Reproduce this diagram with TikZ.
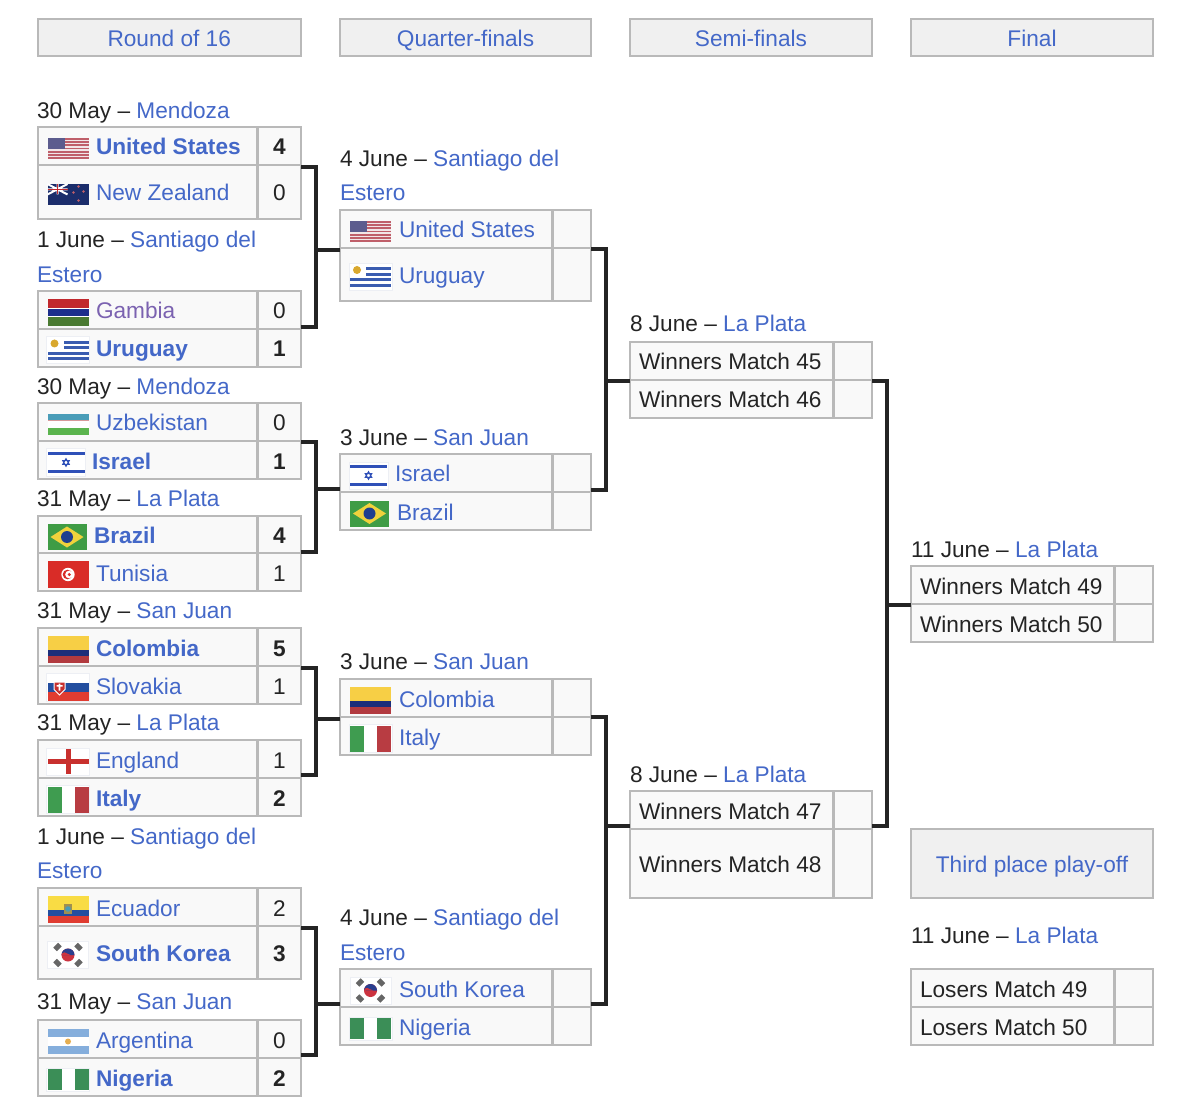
\documentclass[tikz,border=0pt]{standalone}
\usepackage{fontspec}
\setmainfont{Liberation Sans}
\definecolor{linkblue}{HTML}{4468C8}
\definecolor{visitedp}{HTML}{7B62B0}
\definecolor{inkc}{HTML}{242424}
\definecolor{cellb}{HTML}{B9B9B9}
\definecolor{cellf}{HTML}{F9F9F9}
\definecolor{headf}{HTML}{F0F0F0}
\definecolor{flagb}{HTML}{EDEFF4}
\definecolor{usred}{HTML}{BF5F6A}
\definecolor{uswhite}{HTML}{F1E6E8}
\definecolor{usblue}{HTML}{5C5C8E}
\definecolor{navy}{HTML}{1B2D6B}
\definecolor{gmred}{HTML}{C1282D}
\definecolor{gmblue}{HTML}{1C2E8C}
\definecolor{gmgreen}{HTML}{4A7A32}
\definecolor{uyblue}{HTML}{3A5CB0}
\definecolor{gold}{HTML}{D9A82E}
\definecolor{uzblue}{HTML}{4A9DB8}
\definecolor{uzgreen}{HTML}{5BB44E}
\definecolor{uzred}{HTML}{D89A9A}
\definecolor{ilblue}{HTML}{2F50B8}
\definecolor{brgreen}{HTML}{3F9C45}
\definecolor{bryellow}{HTML}{F0D23C}
\definecolor{brblue}{HTML}{1F3F8F}
\definecolor{tnred}{HTML}{D92C27}
\definecolor{coyellow}{HTML}{F7CF45}
\definecolor{coblue}{HTML}{1C2E7A}
\definecolor{cored}{HTML}{B23A3F}
\definecolor{skblue}{HTML}{234E9F}
\definecolor{skred}{HTML}{E03C31}
\definecolor{enred}{HTML}{C8302E}
\definecolor{itgreen}{HTML}{3F9C50}
\definecolor{itred}{HTML}{B83C42}
\definecolor{ecyellow}{HTML}{F9DC44}
\definecolor{ecbrown}{HTML}{A09050}
\definecolor{krred}{HTML}{CC3340}
\definecolor{krblue}{HTML}{2A3F8F}
\definecolor{krgray}{HTML}{666666}
\definecolor{arblue}{HTML}{85AEDC}
\definecolor{arsun}{HTML}{E5AE50}
\definecolor{nggreen}{HTML}{3B8E57}
\tikzset{
  every node/.style={font=\fontsize{22.65}{27}\selectfont, text=inkc, inner sep=0pt, outer sep=0pt},
  cell/.style={draw=cellb, fill=cellf, line width=2pt, anchor=north west},
  headbox/.style={draw=cellb, fill=headf, line width=2pt, anchor=north west},
  link/.style={text=linkblue},
  conn/.style={draw=inkc, line width=4.4pt, line join=miter}
}
% ---- flags, origin at left centre
\newcommand\flagUS{\fill[uswhite] (0,-10.5) rectangle (41,10.5);
  \foreach \i in {0,2,...,12}{\fill[usred] (0,{-10.5+\i*21/13}) rectangle (41,{-10.5+(\i+1)*21/13});}
  \fill[usblue] (0,-10.5) rectangle (17,0.8);}
\newcommand\flagNZ{\fill[navy] (0,-10.5) rectangle (41,10.5);
  \draw[white,line width=2pt] (0,-10.5) -- (20,0) (0,0) -- (20,-10.5) (10,-10.5) -- (10,0) (0,-5.2) -- (20,-5.2);
  \draw[gmred,line width=1.2pt] (10,-10.5) -- (10,0) (0,-5.2) -- (20,-5.2);
  \foreach \p/\q in {31/-8,26/-2,36/-3,31/6}{\fill[usred] (\p,\q) circle[radius=1.4];}}
\newcommand\flagGM{\fill[gmred] (0,-13.5) rectangle (41,-4.5);
  \fill[white] (0,-4.5) rectangle (41,-3.5);
  \fill[gmblue] (0,-3.5) rectangle (41,3.5);
  \fill[white] (0,3.5) rectangle (41,4.5);
  \fill[gmgreen] (0,4.5) rectangle (41,13.5);}
\newcommand\flagUY{\draw[flagb,fill=white,line width=1pt] (-1,-13.5) rectangle (42,13.5);
  \foreach \i in {1,3}{\fill[uyblue] (16,{-12.5+\i*25/9}) rectangle (41,{-12.5+(\i+1)*25/9});}
  \foreach \i in {5,7}{\fill[uyblue] (0,{-12.5+\i*25/9}) rectangle (41,{-12.5+(\i+1)*25/9});}
  \fill[gold] (7,-7) circle[radius=4];}
\newcommand\flagUZ{\fill[uzblue] (0,-10.5) rectangle (41,-4);
  \fill[uzred] (0,-4) rectangle (41,-3.2);
  \fill[white] (0,-3.2) rectangle (41,3.2);
  \fill[uzred] (0,3.2) rectangle (41,4);
  \fill[uzgreen] (0,4) rectangle (41,10.5);}
\newcommand\flagIL{\draw[flagb,fill=white,line width=1pt] (-1,-13.5) rectangle (38,13.5);
  \fill[ilblue] (0,-10.5) rectangle (37,-7.3);
  \fill[ilblue] (0,7.3) rectangle (37,10.5);
  \draw[ilblue,line width=1pt] (18.5,-3.8) -- (15.2,1.9) -- (21.8,1.9) -- cycle (18.5,3.8) -- (15.2,-1.9) -- (21.8,-1.9) -- cycle;}
\newcommand\flagBR{\fill[brgreen] (0,-13) rectangle (39,13);
  \fill[bryellow] (3,0) -- (19.5,-10.5) -- (36,0) -- (19.5,10.5) -- cycle;
  \fill[brblue] (19.5,0) circle[radius=6];}
\newcommand\flagTN{\fill[tnred] (0,-13.5) rectangle (41,13.5);
  \fill[white] (20.5,0) circle[radius=6.7];
  \fill[tnred] (20,0) circle[radius=4.8];
  \fill[white] (21.5,0) circle[radius=3.8];
  \fill[tnred] (21.8,0) circle[radius=1.7];}
\newcommand\flagCO{\fill[coyellow] (0,-13.5) rectangle (41,0);
  \fill[coblue] (0,0) rectangle (41,6.7);
  \fill[cored] (0,6.7) rectangle (41,13.5);}
\newcommand\flagSK{\draw[flagb,fill=white,line width=1pt] (-1,-14) rectangle (42,14);
  \fill[skblue] (0,-4.5) rectangle (41,4.5);
  \fill[skred] (0,4.5) rectangle (41,13.5);
  \fill[white] (6,-6) -- (18,-6) -- (18,2) -- (12,8) -- (6,2) -- cycle;
  \fill[enred] (7,-5) -- (17,-5) -- (17,1.5) -- (12,6.5) -- (7,1.5) -- cycle;
  \fill[white] (11.2,-4) rectangle (12.8,3) (9,-2.5) rectangle (15,-1);}
\newcommand\flagEN{\draw[flagb,fill=white,line width=1pt] (-1,-13.5) rectangle (42,13.5);
  \fill[enred] (0,-2.5) rectangle (41,2.5);
  \fill[enred] (18,-12.5) rectangle (23,12.5);}
\newcommand\flagIT{\draw[flagb,fill=white,line width=1pt] (-1,-14) rectangle (42,14);
  \fill[itgreen] (0,-13) rectangle (14,13);
  \fill[itred] (27,-13) rectangle (41,13);}
\newcommand\flagEC{\fill[ecyellow] (0,-13.5) rectangle (41,0);
  \fill[skblue] (0,0) rectangle (41,6.7);
  \fill[skred] (0,6.7) rectangle (41,13.5);
  \fill[ecbrown] (16.5,-6) rectangle (24.5,4);
  \fill[uzblue] (20.5,-0.5) circle[radius=2.8];}
\newcommand\flagKR{\draw[flagb,fill=white,line width=1pt] (0,-13.5) rectangle (41,13.5);
  \fill[krred] (20.5,0) circle[radius=6.5];
  \fill[krblue] (14,0) arc[start angle=180,end angle=360,radius=6.5] -- cycle;
  \fill[krred] (14,0.3) arc[start angle=180,end angle=270,radius=3] -- (23,0) -- cycle;
  \foreach \p/\q/\r in {10/-8/45,31/-8/-45,10/8/-45,31/8/45}{\fill[krgray,rotate around={\r:(\p,\q)}] (\p-3.5,\q-2.5) rectangle (\p+3.5,\q+2.5);}}
\newcommand\flagAR{\fill[arblue] (0,-12.5) rectangle (41,-4.2);
  \fill[white] (0,-4.2) rectangle (41,4.2);
  \fill[arblue] (0,4.2) rectangle (41,12.5);
  \fill[arsun] (20.5,0) circle[radius=3];}
\newcommand\flagNG{\draw[flagb,fill=white,line width=1pt] (-1,-11.5) rectangle (42,11.5);
  \fill[nggreen] (0,-10.5) rectangle (14,10.5);
  \fill[nggreen] (27,-10.5) rectangle (41,10.5);}
\newcommand\flagNone{}
% ---- a table row: id, top, bottom, flag, text offset, name, score
\newcommand\setcol[3]{\def\colL{#1}\def\colD{#2}\def\colR{#3}}
\newcommand\teamrow[7]{%
  \pgfmathsetmacro\ymid{(#2+#3)/2}%
  \pgfmathsetmacro\ybase{\ymid+9}%
  \pgfmathsetmacro\yflag{\ymid+2.5}%
  \pgfmathsetmacro\wt{\colD-\colL}%
  \pgfmathsetmacro\ws{\colR-\colD-1}%
  \pgfmathsetmacro\hr{#3-#2}%
  \pgfmathsetmacro\xs{\colD+1}%
  \pgfmathsetmacro\xc{(\colD+1+\colR)/2}%
  \pgfmathsetmacro\xf{\colL+10}%
  \pgfmathsetmacro\xt{\colL+#5}%
  \node[cell,minimum width=\wt pt,minimum height=\hr pt] (#1) at (\colL,#2) {};
  \node[cell,minimum width=\ws pt,minimum height=\hr pt] (#1S) at (\xs,#2) {};
  \begin{scope}[shift={(\xf,\yflag)}]#4\end{scope}
  \node[anchor=base west,link] (#1T) at (\xt,\ybase) {#6};
  \node[anchor=base] (#1N) at (\xc,\ybase) {#7};
}
\newcommand\datelabel[5]{\node[anchor=base west] (#1) at (#2,#3+0.5) {#4 – \textcolor{linkblue}{#5}};}
\newcommand\wraplabel[3]{\node[anchor=base west,link] (#1) at (#2,#3+0.5) {Estero};}
\newcommand\headbox[6]{%
  \pgfmathsetmacro\wt{#3-#2}\pgfmathsetmacro\hr{#5-#4}%
  \node[headbox,minimum width=\wt pt,minimum height=\hr pt] (#1) at (#2,#4) {};
  \pgfmathsetmacro\xc{(#2+#3)/2}\pgfmathsetmacro\ybase{(#4+#5)/2+9}%
  \node[anchor=base,link] (#1T) at (\xc,\ybase) {#6};
}
\newcommand\bracket[7]{%
  \coordinate (#1) at ([xshift=15pt]#2S.south east);
  \draw[conn] ([yshift=#5pt]#2S.south east) -- ++(15,0) |- ([yshift=#6pt]#3S.south east);
  \draw[conn] ([yshift=#7pt]#4.south west) -| (#1);
}
\begin{document}
\begin{tikzpicture}[x=1pt,y=-1pt]
\useasboundingbox (0,0) rectangle (1179,1107);
% headers
\headbox{h1}{37.5}{301}{19}{56}{Round of 16}
\headbox{h2}{340}{591}{19}{56}{Quarter-finals}
\headbox{h3}{630}{872}{19}{56}{Semi-finals}
\headbox{h4}{911}{1153}{19}{56}{Final}
\headbox{h5}{911}{1153}{829}{898}{Third place play-off}
% round of 16
\setcol{37.5}{257}{301}
\datelabel{d1}{37}{118}{30 May}{Mendoza}
\teamrow{a1}{127}{165}{\flagUS}{58.5}{\textbf{United States}}{\textbf{4}}
\teamrow{a2}{165}{219}{\flagNZ}{58.5}{New Zealand}{0}
\datelabel{d2}{37}{247}{1 June}{Santiago del}
\wraplabel{d2b}{37}{282}
\teamrow{a3}{291}{329}{\flagGM}{58.5}{\textcolor{visitedp}{Gambia}}{0}
\teamrow{a4}{329}{367}{\flagUY}{58.5}{\textbf{Uruguay}}{\textbf{1}}
\datelabel{d3}{37}{394}{30 May}{Mendoza}
\teamrow{a5}{403}{441}{\flagUZ}{58.5}{Uzbekistan}{0}
\teamrow{a6}{441}{479}{\flagIL}{54.5}{\textbf{Israel}}{\textbf{1}}
\datelabel{d4}{37}{506}{31 May}{La Plata}
\teamrow{a7}{516}{553}{\flagBR}{56.5}{\textbf{Brazil}}{\textbf{4}}
\teamrow{a8}{553}{591}{\flagTN}{58.5}{Tunisia}{1}
\datelabel{d5}{37}{618}{31 May}{San Juan}
\teamrow{a9}{628}{666}{\flagCO}{58.5}{\textbf{Colombia}}{\textbf{5}}
\teamrow{a10}{666}{704}{\flagSK}{58.5}{Slovakia}{1}
\datelabel{d6}{37}{730}{31 May}{La Plata}
\teamrow{a11}{740}{778}{\flagEN}{58.5}{England}{1}
\teamrow{a12}{778}{816}{\flagIT}{58.5}{\textbf{Italy}}{\textbf{2}}
\datelabel{d7}{37}{844}{1 June}{Santiago del}
\wraplabel{d7b}{37}{878}
\teamrow{a13}{888}{926}{\flagEC}{58.5}{Ecuador}{2}
\teamrow{a14}{926}{979}{\flagKR}{58.5}{\textbf{South Korea}}{\textbf{3}}
\datelabel{d8}{37}{1009}{31 May}{San Juan}
\teamrow{a15}{1020}{1058}{\flagAR}{58.5}{Argentina}{0}
\teamrow{a16}{1058}{1096}{\flagNG}{58.5}{\textbf{Nigeria}}{\textbf{2}}
% quarter-finals
\setcol{340}{552}{591}
\datelabel{e1}{340}{166}{4 June}{Santiago del}
\wraplabel{e1b}{340}{200}
\teamrow{b1}{210}{248}{\flagUS}{59}{United States}{}
\teamrow{b2}{248}{301}{\flagUY}{59}{Uruguay}{}
\datelabel{e2}{340}{445}{3 June}{San Juan}
\teamrow{b3}{454}{492}{\flagIL}{55}{Israel}{}
\teamrow{b4}{492}{530}{\flagBR}{57}{Brazil}{}
\datelabel{e3}{340}{669}{3 June}{San Juan}
\teamrow{b5}{679}{717}{\flagCO}{59}{Colombia}{}
\teamrow{b6}{717}{755}{\flagIT}{59}{Italy}{}
\datelabel{e4}{340}{925}{4 June}{Santiago del}
\wraplabel{e4b}{340}{960}
\teamrow{b7}{969}{1007}{\flagKR}{59}{South Korea}{}
\teamrow{b8}{1007}{1045}{\flagNG}{59}{Nigeria}{}
% semi-finals
\setcol{630}{833}{872}
\datelabel{f1}{630}{331}{8 June}{La Plata}
\teamrow{c1}{342}{380}{\flagNone}{9}{\textcolor{inkc}{Winners Match 45}}{}
\teamrow{c2}{380}{418}{\flagNone}{9}{\textcolor{inkc}{Winners Match 46}}{}
\datelabel{f2}{630}{782}{8 June}{La Plata}
\teamrow{c3}{791}{829}{\flagNone}{9}{\textcolor{inkc}{Winners Match 47}}{}
\teamrow{c4}{829}{898}{\flagNone}{9}{\textcolor{inkc}{Winners Match 48}}{}
% final and third place
\setcol{911}{1114}{1153}
\datelabel{g1}{911}{556.5}{11 June}{La Plata}
\teamrow{p1}{566}{604}{\flagNone}{9}{\textcolor{inkc}{Winners Match 49}}{}
\teamrow{p2}{604}{642}{\flagNone}{9}{\textcolor{inkc}{Winners Match 50}}{}
\datelabel{g2}{911}{942.5}{11 June}{La Plata}
\teamrow{p3}{969}{1007}{\flagNone}{9}{\textcolor{inkc}{Losers Match 49}}{}
\teamrow{p4}{1007}{1045}{\flagNone}{9}{\textcolor{inkc}{Losers Match 50}}{}
% connectors
\bracket{j1}{a1}{a3}{b1}{-2}{2}{-2}
\bracket{j2}{a5}{a7}{b3}{-1}{1}{3}
\bracket{j3}{a9}{a11}{b5}{-2}{3}{-2}
\bracket{j4}{a13}{a15}{b7}{-2}{3}{3}
\bracket{j5}{b1}{b3}{c1}{-1}{2}{-1}
\bracket{j6}{b5}{b7}{c3}{0}{3}{3}
\bracket{j7}{c1}{c3}{p1}{-1}{3}{-1}
\end{tikzpicture}
\end{document}
